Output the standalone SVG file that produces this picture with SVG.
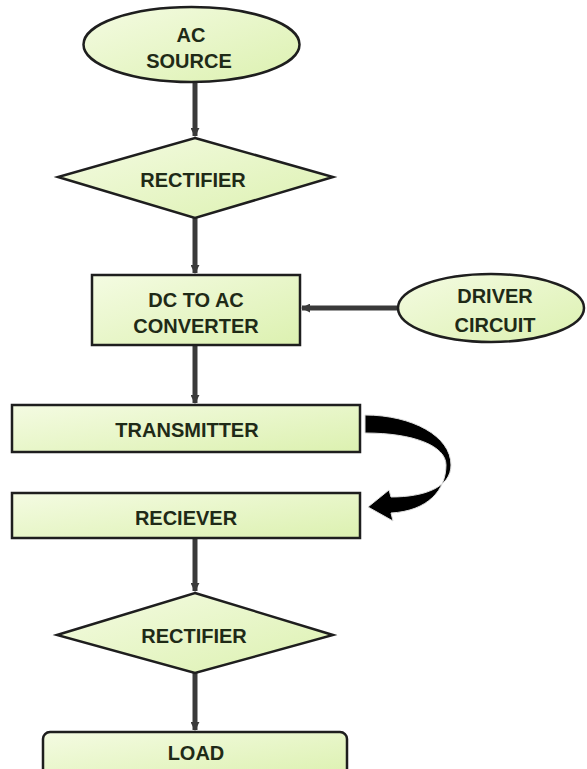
<svg xmlns="http://www.w3.org/2000/svg" width="587" height="769" viewBox="0 0 587 769">
<defs>
<linearGradient id="g" x1="0" y1="0" x2="1" y2="1">
<stop offset="0" stop-color="#f4fbe2"/>
<stop offset="1" stop-color="#dcf1b0"/>
</linearGradient>
<marker id="ah" viewBox="0 0 10 10" refX="9" refY="5" markerWidth="1.8" markerHeight="1.8" orient="auto" markerUnits="strokeWidth">
<path d="M0,0 L10,5 L0,10 Z" fill="#3a3a3a"/>
</marker>
<style>
.n{fill:url(#g);stroke:#1e1e1e;stroke-width:2.5}
.t{font-family:"Liberation Sans",Arial,sans-serif;font-weight:bold;font-size:20px;fill:#1f2a17;text-anchor:middle}
.c{stroke:#3a3a3a;stroke-width:5;fill:none;marker-end:url(#ah)}
</style>
</defs>
<rect width="587" height="769" fill="#ffffff"/>
<g id="connectors">
<line class="c" x1="195" y1="82" x2="195" y2="136"/>
<line class="c" x1="195" y1="218" x2="195" y2="273"/>
<line class="c" x1="490" y1="308" x2="302" y2="308"/>
<line class="c" x1="195" y1="345" x2="195" y2="403"/>
<line class="c" x1="195" y1="538" x2="195" y2="591"/>
<line class="c" x1="195" y1="673" x2="195" y2="730"/>
<path id="wireless" d="M365,415 C412,415 451,436 451,465 C451,487 425,497 391,497 L389,490 L368,507 L393,521 L391,513 C428,511 446,490 446,465 C446,446 414,433 365,433 Z" fill="#000000" stroke="#dddddd" stroke-width="1"/>
</g>
<g id="ac-source">
<ellipse class="n" cx="191.5" cy="44.5" rx="108" ry="37.5"/>
<text class="t" x="191" y="42">AC</text>
<text class="t" x="189" y="68">SOURCE</text>
</g>
<g id="rectifier1">
<polygon class="n" points="195,138 333,177 195,218 58,177"/>
<text class="t" x="193" y="187">RECTIFIER</text>
</g>
<g id="driver-circuit">
<ellipse class="n" cx="491" cy="308" rx="93" ry="34"/>
<text class="t" x="495" y="303">DRIVER</text>
<text class="t" x="495" y="332">CIRCUIT</text>
</g>
<g id="dc-ac">
<rect class="n" x="92" y="275" width="208" height="70"/>
<text class="t" x="196" y="307">DC TO AC</text>
<text class="t" x="196" y="333">CONVERTER</text>
</g>
<g id="transmitter">
<rect class="n" x="12" y="405" width="348" height="47"/>
<text class="t" x="187" y="437">TRANSMITTER</text>
</g>
<g id="reciever">
<rect class="n" x="12" y="493" width="348" height="45"/>
<text class="t" x="186" y="525">RECIEVER</text>
</g>
<g id="rectifier2">
<polygon class="n" points="195,593 333,635 195,673 57,635"/>
<text class="t" x="194" y="643">RECTIFIER</text>
</g>
<g id="load">
<rect class="n" x="43" y="732" width="304" height="46" rx="7"/>
<text class="t" x="196" y="760">LOAD</text>
</g>
</svg>
